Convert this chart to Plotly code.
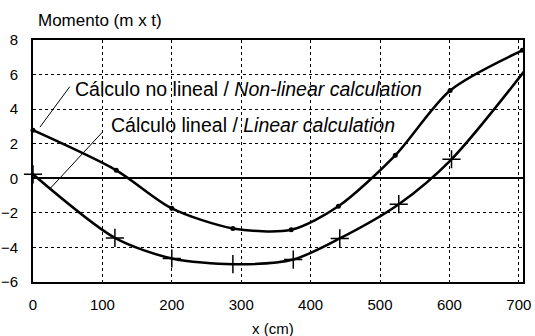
import plotly.graph_objects as go

x_nonlin = [0, 120, 200, 288, 372, 440, 522, 601, 705]
y_nonlin = [2.78, 0.46, -1.74, -2.9, -2.98, -1.62, 1.33, 5.08, 7.4]
x_lin = [0, 118, 200, 288, 375, 442, 527, 603, 708]
y_lin = [0.23, -3.45, -4.64, -4.97, -4.7, -3.48, -1.5, 1.1, 6.2]

x_ticks = [0, 100, 200, 300, 400, 500, 600, 700]
y_ticks = [-6, -4, -2, 0, 2, 4, 6, 8]

FONT = "Liberation Sans, Arial, sans-serif"

fig = go.Figure()
fig.add_trace(go.Scatter(x=x_nonlin, y=y_nonlin, mode="lines+markers",
                         line=dict(color="black", width=2.5, shape="spline", smoothing=0.8),
                         marker=dict(symbol="circle", size=5, color="black"),
                         cliponaxis=False, showlegend=False))
fig.add_trace(go.Scatter(x=x_lin, y=y_lin, mode="lines+markers",
                         line=dict(color="black", width=2.5, shape="spline", smoothing=0.8),
                         marker=dict(symbol="cross-thin", size=13, color="black",
                                     line=dict(color="black", width=1.5)),
                         cliponaxis=False, showlegend=False))

fig.update_layout(
    width=535, height=336,
    margin=dict(l=33, r=12, t=40, b=54),
    paper_bgcolor="white", plot_bgcolor="white",
    font=dict(family=FONT, size=14, color="black"),
    xaxis=dict(range=[0, 706], tickvals=x_ticks, showgrid=True, gridcolor="black",
               griddash="dot", gridwidth=1.2, zeroline=False, showline=True,
               linecolor="black", linewidth=2, mirror=True, ticks="", automargin=False,
               ticklabelstandoff=8, tickfont=dict(size=15)),
    yaxis=dict(range=[-6, 8], tickvals=y_ticks, showgrid=True, gridcolor="black",
               griddash="dot", gridwidth=1.2, zeroline=True, zerolinecolor="black",
               zerolinewidth=1.5, showline=True, linecolor="black", linewidth=2,
               mirror=True, ticks="", automargin=False, ticklabelstandoff=10,
               tickfont=dict(size=15)),
)

annotations = [
    dict(text="Momento (m x t)", xref="paper", yref="paper", x=0, y=1.0,
         xanchor="left", yanchor="bottom", xshift=3, yshift=8, showarrow=False,
         font=dict(size=17)),
    dict(text="x (cm)", xref="paper", yref="paper", x=0.49, y=0, yanchor="top",
         yshift=-36, showarrow=False, font=dict(size=15)),
    dict(text="Cálculo no lineal / <i>Non-linear calculation</i>", xref="x", yref="y",
         x=58, y=5.16, xanchor="left", yanchor="middle", showarrow=False,
         font=dict(size=19.5)),
    dict(text="Cálculo lineal / <i>Linear calculation</i>", xref="x", yref="y",
         x=109, y=3.07, xanchor="left", yanchor="middle", showarrow=False,
         font=dict(size=19.5)),
]
fig.update_layout(annotations=annotations)

fig.add_shape(type="line", xref="x", yref="y", x0=53, y0=5.3, x1=10, y1=2.96,
              line=dict(color="black", width=1))
fig.add_shape(type="line", xref="x", yref="y", x0=100, y0=2.67, x1=25, y1=-0.58,
              line=dict(color="black", width=1))

fig.write_html("out.html")
